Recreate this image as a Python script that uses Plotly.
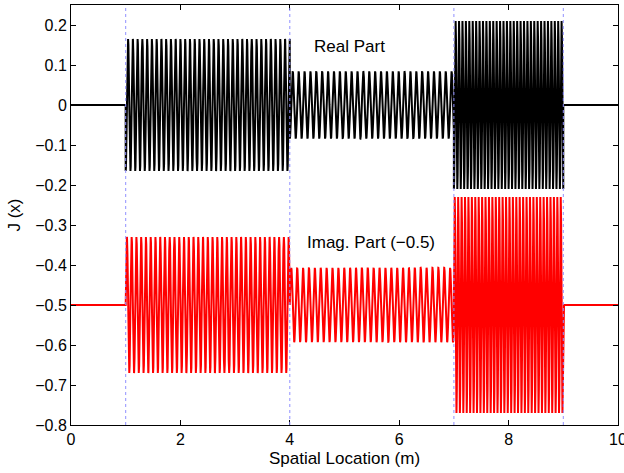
import numpy as np
import plotly.graph_objects as go

# Segment boundaries (m)
seg_start = [1.0, 4.0, 7.0]
seg_end = [4.0, 7.0, 9.0]
# Amplitudes and cycles per metre per segment
real_amp = [0.165, 0.084, 0.21]
imag_amp = [0.17, 0.093, 0.27]
cycles_per_m = [11.5, 9.3, 16.0]
imag_offset = -0.5
boundaries = [1, 4, 7, 9]
x_ticks = [0, 2, 4, 6, 8, 10]
y_ticks = [-0.8, -0.7, -0.6, -0.5, -0.4, -0.3, -0.2, -0.1, 0, 0.1, 0.2]

x = np.linspace(0, 10, 20001)
re = np.zeros_like(x)
im = np.zeros_like(x)
for a, b, ar, ai, f in zip(seg_start, seg_end, real_amp, imag_amp, cycles_per_m):
    m = (x >= a) & (x < b)
    ph = 2 * np.pi * f * (x[m] - a)
    re[m] = -ar * np.cos(ph)
    im[m] = ai * np.sin(ph)
im = im + imag_offset

fig = go.Figure()
fig.add_trace(go.Scatter(x=x, y=re, mode="lines", line=dict(color="black", width=2), showlegend=False))
fig.add_trace(go.Scatter(x=x, y=im, mode="lines", line=dict(color="#ff0000", width=2), showlegend=False))

for b in boundaries:
    fig.add_vline(x=b, line=dict(color="#9090ff", width=1, dash="dot"))

fam = "Liberation Sans, Arial, sans-serif"
tfont = dict(family=fam, size=16, color="black")
lfont = dict(family=fam, size=17, color="black")
fig.add_annotation(x=5.1, y=0.147, text="Real Part", showarrow=False, font=lfont)
fig.add_annotation(x=5.48, y=-0.344, text="Imag. Part (\u22120.5)", showarrow=False, font=lfont)

def fmt(v):
    if abs(v) < 1e-9:
        return "0"
    return ("\u2212" + f"{abs(v):g}") if v < 0 else f"{v:g}"

axis_common = dict(showgrid=False, zeroline=False, showline=True, linecolor="black", linewidth=1,
                   mirror="ticks", ticks="inside", ticklen=5, tickcolor="black",
                   tickfont=tfont, automargin=False)
fig.update_xaxes(range=[0, 10], tickvals=x_ticks, ticktext=[fmt(v) for v in x_ticks],
                 ticklabeloverflow="allow",
                 title=dict(text="Spatial Location (m)", font=lfont, standoff=4), **axis_common)
fig.update_yaxes(range=[-0.8, 0.25], tickvals=y_ticks, ticktext=[fmt(v) for v in y_ticks],
                 title=dict(text="J (x)", font=lfont, standoff=10), **axis_common)
fig.update_layout(width=624, height=473, margin=dict(l=71, r=6, t=5, b=48),
                  plot_bgcolor="white", paper_bgcolor="white")
fig.write_html("out.html", config={"displayModeBar": False},
               post_script="document.body.style.margin='0px';document.body.style.overflow='hidden';")
